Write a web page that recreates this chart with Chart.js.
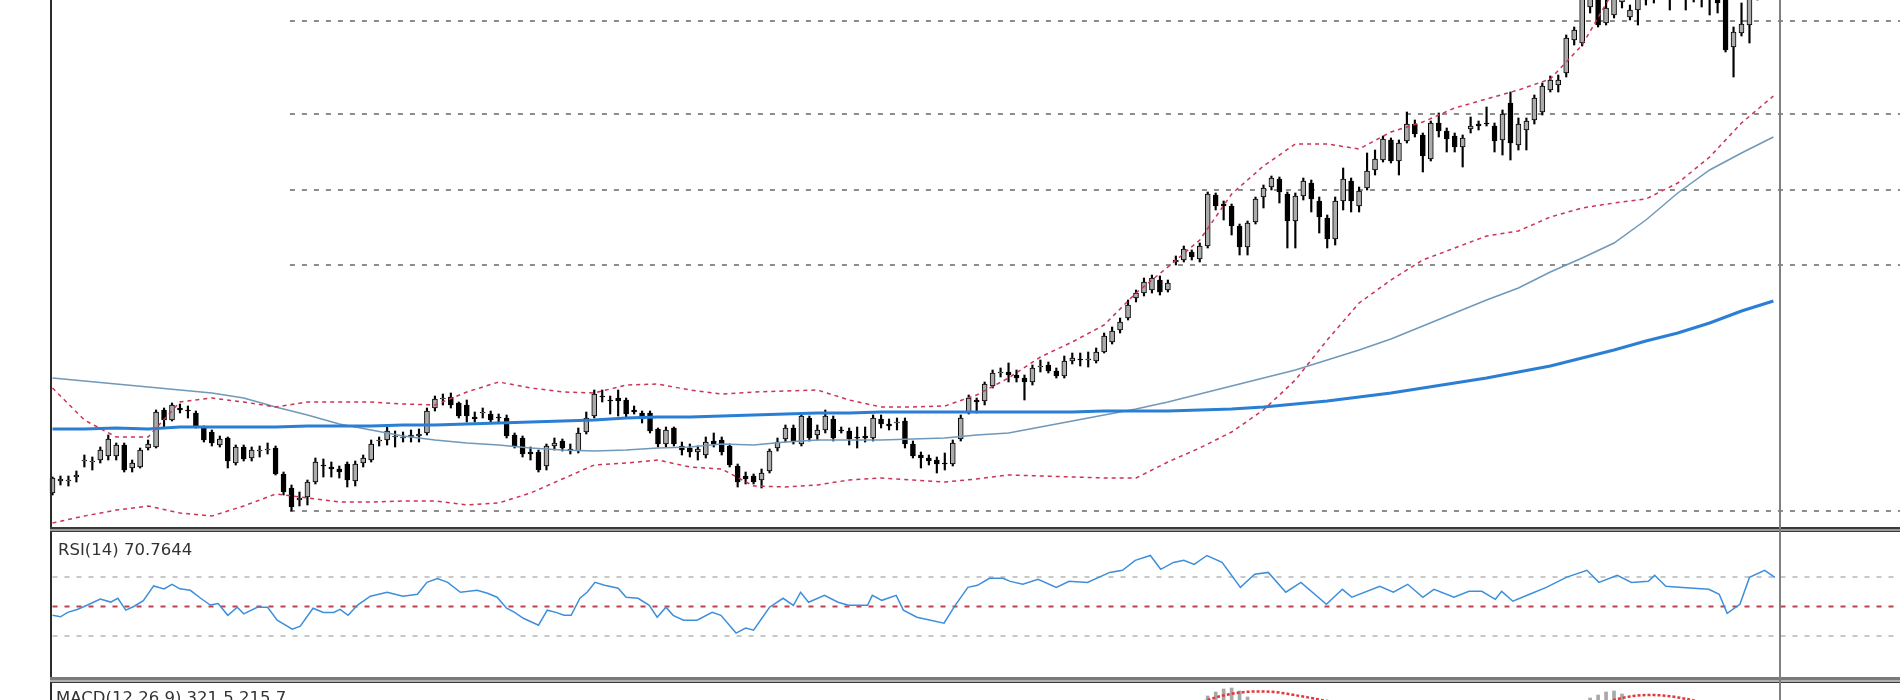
<!DOCTYPE html>
<html>
<head>
<meta charset="utf-8">
<script src="https://cdn.jsdelivr.net/npm/chart.js@4.4.1/dist/chart.umd.min.js"></script>
<style>
  html, body { margin: 0; padding: 0; background: #fff; }
  body { width: 1900px; height: 700px; overflow: hidden; position: relative; font-family: "DejaVu Sans", sans-serif; }
  .pane  { position: absolute; left: 0; width: 1900px; }
  .frame { position: absolute; z-index: 5; }
  .label { position: absolute; z-index: 6; color: #333; font-size: 16.5px; white-space: nowrap; }
</style>
</head>
<body>

<div class="pane" style="top:0;height:527px"><canvas id="main" width="1900" height="527"></canvas></div>
<div class="pane" style="top:533px;height:147px"><canvas id="rsi" width="1900" height="147"></canvas></div>
<div class="pane" style="top:683px;height:200px"><canvas id="macd" width="1900" height="200"></canvas></div>

<!-- window frame -->
<div class="frame" style="left:50px;top:0;width:2px;height:700px;background:#2b2b2b"></div>
<div class="frame" style="left:50px;top:527px;width:1850px;height:2px;background:#3a3a3a"></div>
<div class="frame" style="left:50px;top:529px;width:1850px;height:2px;background:#9a9a9a"></div>
<div class="frame" style="left:50px;top:531px;width:1850px;height:1px;background:#3a3a3a"></div>
<div class="frame" style="left:50px;top:677px;width:1850px;height:3px;background:#7a7a7a"></div>
<div class="frame" style="left:50px;top:680px;width:1850px;height:2px;background:#b0b0b0"></div>
<div class="frame" style="left:50px;top:682px;width:1850px;height:1px;background:#3a3a3a"></div>
<div class="frame" style="left:1779px;top:0;width:2px;height:700px;background:#808080"></div>

<div class="label" style="left:58px;top:540px">RSI(14) 70.7644</div>
<div class="label" style="left:56px;top:688px">MACD(12,26,9) 321.5 215.7</div>

<script>
// ---- price bars (daily), oldest first ----
const opens = [
  370,490,490,530,690,680,700,740,740,850, 620,630,820,830,1200,1100,1220,1200,1170,1020,
  980,850,920,670,830,720,790,800,820,560, 420,300,330,480,650,630,610,660,490,670,
  700,890,900,930,920,930,940,970,1220,1310, 1330,1270,1250,1130,1170,1160,1130,1120,950,920,
  780,780,640,840,890,810,790,980,1140,1340, 1300,1320,1300,1200,1170,1170,1010,860,1020,840,
  820,780,750,890,900,840,640,540,540,500, 590,820,910,1020,860,1120,950,1000,1110,1000,
  990,930,940,920,1110,1060,1070,1090,860,750, 720,700,670,660,910,1170,1300,1290,1440,1570,
  1580,1550,1520,1480,1630,1650,1590,1540,1690,1710, 1700,1690,1780,1880,2000,2120,2320,2370,2400,2500,
  2400,2680,2700,2780,2710,2840,3350,3260,3240,3040, 2830,3080,3330,3430,3510,3360,3090,3340,3470,3290,
  3120,2910,3290,3490,3240,3420,3600,3700,3900,3690, 3890,4060,3950,3710,4070,3990,3940,3830,4010,4060,
  4070,4040,3900,4270,3850,4000,4100,4180,4400,4450, 4570,4900,4870,5230,5450,5070,5150,5280,5130,5200,
  5300,5320,5400,5380,5420,5400,5440,5400,5360,5330, 5320,4830,4970,5050,5350,5450,5650
];
const highs = [
  530,540,540,590,750,730,830,950,870,870, 700,820,900,1200,1220,1270,1260,1240,1190,1040,
  1000,940,930,850,850,830,840,870,840,580, 450,380,500,720,710,680,640,680,690,750,
  900,930,1030,990,980,1000,1010,1220,1340,1360, 1370,1280,1300,1180,1220,1190,1160,1150,970,940,
  830,800,860,920,910,860,1020,1180,1400,1400, 1340,1400,1320,1240,1190,1190,1020,1030,1030,880,
  860,840,930,970,930,860,660,580,560,610, 810,920,1050,1050,1160,1140,1050,1200,1140,1030,
  1020,1030,1030,1150,1150,1110,1120,1120,890,780, 750,730,770,900,1150,1350,1320,1480,1600,1620,
  1670,1600,1550,1650,1700,1680,1620,1740,1770,1770, 1780,1820,1970,2030,2120,2300,2400,2520,2550,2540,
  2500,2740,2840,2800,2870,3380,3370,3290,3260,3060, 3090,3330,3450,3540,3530,3380,3370,3520,3500,3330,
  3150,3330,3620,3520,3430,3770,3800,3940,3920,3900, 4180,4100,3970,4090,4170,4020,3970,3950,4130,4090,
  4230,4070,4200,4380,4120,4120,4350,4470,4540,4550, 4950,5030,5450,5550,5500,5300,5400,5380,5250,5450,
  5400,5400,5500,5500,5500,5520,5520,5480,5450,5400, 5380,5030,5270,5420,5500,5700,5680
];
const lows = [
  350,450,440,480,630,600,670,700,700,580, 580,620,800,820,1030,1090,1170,1120,1020,880,
  840,830,620,650,690,690,730,760,550,350, 190,240,250,460,530,530,520,430,440,630,
  680,840,850,830,880,880,880,950,1190,1250, 1220,1120,1080,1080,1120,1080,1080,920,820,730,
  700,580,600,800,790,760,770,960,1120,1280, 1160,1140,1130,1160,1070,970,830,830,840,750,
  730,700,720,830,750,630,430,460,460,420, 570,790,880,860,840,890,900,970,890,970,
  850,820,880,890,1020,1000,1000,820,720,620, 650,570,600,640,890,1160,1170,1250,1420,1530,
  1480,1480,1300,1450,1580,1570,1520,1520,1660,1640, 1630,1670,1770,1860,1970,2100,2280,2340,2370,2350,
  2380,2650,2680,2700,2680,2820,3200,3100,2950,2750, 2750,3060,3220,3400,3270,2820,2820,3300,3180,2970,
  2820,2850,3200,3180,3180,3400,3550,3680,3670,3550, 3870,3930,3580,3690,3930,3780,3780,3630,3970,4000,
  4040,3780,3750,3700,3800,3800,4060,4150,4380,4380, 4530,4850,4840,5170,5030,5050,5120,5220,5100,5050,
  5250,5270,5320,5200,5330,5200,5280,5230,5150,5170, 4780,4530,4940,4870,5300,5420,5480
];
const closes = [
  520,510,500,550,700,690,800,910,850,600, 670,800,860,1180,1100,1250,1200,1190,1030,900,
  870,910,690,830,710,800,800,810,560,380, 230,320,480,680,640,610,580,500,660,720,
  860,900,990,940,930,950,960,1190,1310,1320, 1250,1140,1140,1110,1180,1100,1120,940,840,760,
  760,600,840,870,820,790,970,1120,1360,1330, 1290,1290,1160,1180,1110,990,860,1000,860,800,
  780,810,880,860,780,650,480,510,480,570, 790,880,1020,880,1140,920,1000,1140,920,990,
  910,920,920,1120,1060,1040,1080,860,740,720, 690,660,660,870,1120,1320,1280,1460,1570,1580,
  1550,1520,1480,1620,1640,1590,1540,1690,1720,1700, 1710,1780,1940,1990,2080,2250,2370,2480,2520,2380,
  2470,2700,2810,2730,2840,3360,3240,3240,3040,2830, 3070,3310,3420,3520,3380,3090,3340,3490,3310,3130,
  2910,3290,3510,3290,3390,3590,3710,3910,3690,3870, 4060,3960,3740,4070,3990,3910,3830,3920,4040,4040,
  4060,3890,4160,3870,4060,4090,4320,4440,4500,4500, 4920,5000,5400,5500,5050,5220,5350,5330,5200,5400,
  5320,5340,5380,5420,5400,5440,5400,5360,5320,5270, 4800,4980,5060,5350,5450,5650,5520
];

// ---- overlays, read every LINE_STEP bars ----
const LINE_STEP = 4;
const maSlow = [
  1010,1010,1020,1010,1030,1030,1030,1030,1040,1040, 1040,1050,1050,1060,1070,1080,1090,1100,1120,1130,
  1130,1140,1150,1160,1170,1170,1180,1180,1180,1180, 1180,1180,1180,1190,1190,1190,1200,1210,1230,1260,
  1290,1330,1370,1420,1470,1520,1580,1640,1720,1800, 1890,1970,2070,2190,2290
];
const maFast = [
  1520,1490,1460,1430,1400,1370,1320,1230,1150,1060, 1000,940,900,870,850,820,800,790,800,820,
  830,860,850,880,900,900,900,910,920,950, 970,1030,1090,1150,1210,1280,1360,1440,1520,1600,
  1700,1800,1910,2040,2170,2300,2420,2580,2720,2870, 3100,3370,3600,3770,3930
];
const bbUpper = [
  1420,1100,930,930,1280,1320,1280,1230,1280,1280, 1280,1260,1250,1380,1480,1420,1380,1370,1450,1460,
  1400,1360,1380,1390,1400,1300,1230,1230,1240,1350, 1520,1730,1880,2050,2370,2630,2900,3360,3640,3860,
  3860,3810,3980,4080,4220,4310,4400,4510,4850,5400, 5800,6000,6100,6100,6100
];
const bbLower = [
  70,140,200,240,170,140,240,360,320,280, 280,290,290,250,270,370,510,650,670,700,
  630,610,440,430,450,500,520,500,480,510, 550,540,530,520,520,680,820,980,1200,1500,
  1900,2270,2500,2700,2820,2940,2990,3130,3220,3270, 3310,3470,3730,4070,4340
];
// horizontal levels drawn on the price pane
const priceLevels = [5090, 4160, 3400, 2650, 190];
const LEVELS_FROM = 29.8;

// ---- RSI(14), read at bar positions ----
const rsiAt = [
  0,1,1.9,3.1,4.4,6,7.3,8.2,9.2,10.2,11.4,12.7,14,15,16,17.3,18.6,19.8,20.8,22,23.2,24,25.7,27,28.2,
  30.1,31.1,32.7,34,35.3,36.1,37.1,38.3,39.9,42,44,45.8,47,48.3,49.6,51.2,53.3,54.6,55.8,57,58,59.1,
  60.2,61,62.1,63.2,64.2,65.1,66.2,67.1,68.1,69.3,71,72,73.5,74.9,75.9,77,77.9,79.2,80.9,82.8,83.9,
  85.8,87,88,90,91.7,93,93.9,94.9,96.9,98.6,99.9,102.3,102.9,104.1,105.9,106.8,108.5,111.9,113.3,
  114.9,116.1,117.6,119.3,120.2,121.8,123.7,126,127.6,129.9,132.7,134.3,135.9,137.8,139.1,140.7,142,
  143.3,144.9,146.8,149.1,150.9,152.6,154.8,156.7,159.9,161.9,163.1,166.6,168.3,170.1,172,173.4,
  175.9,177.8,179.4,181.1,181.9,183.3,185.4,187.5,190,192.6,194.1,196.4,198.2,200.3,201.1,202.5,
  204.6,207.9,209.2,210.2,211.8,213,214.9,216.2
];
const rsiVal = [
  44,43,46,48,51,55,53,55.6,47.5,50,54,64,62,65,62,61,55.6,51,52,44,49.5,45,49.5,49.5,40.7,
  34.6,36.6,48.8,46,46,48,44,51,57,59.7,57,58.3,66.4,69,66.4,59.7,61,59,56.3,48.8,46,42,
  39.3,37.3,47.5,46,44,44,55.6,59.7,66.4,64.4,62.4,56.3,55.6,50.8,42.7,49.5,44,40.7,40.7,46,44,
  31.9,35.3,33.9,49.5,55.6,50.8,59.7,52.9,57.6,52.9,50.8,50.8,57.6,54.2,57.6,47.5,42.7,38.6,50.8,
  63,64.4,69.2,69.2,67.1,65.1,68.5,63,67.1,66.4,73.2,74.6,81.4,84.7,75.3,80,81.4,
  78.6,84.7,80,63,71.9,73.2,59.7,66.4,51.5,61.7,56.3,63.7,59.7,65.1,56.3,61.7,
  56.3,60.3,60.3,54.9,60.3,53.6,58.3,63,69.8,74.6,66.4,71.2,66.4,67.1,71.2,63.7,
  63,61.7,58.3,45.4,51.5,69.8,74.6,69.8
];
const rsiLevels = [70, 50, 30];

// ---- MACD(12,26,9): main histogram and signal, one value per bar ----
const macdMain = [
  -10,-5,0,5,15,20,25,35,38,30,28,30,32,45,50,55,56,52,45,35,
  25,15,5,-5,-10,-15,-18,-20,-28,-45,-62,-70,-68,-60,-55,-50,-45,-45,-40,-32,
  -22,-15,-5,0,4,8,10,22,35,45,52,50,45,40,36,32,28,20,10,0,
  -8,-18,-22,-20,-20,-18,-8,5,22,32,40,45,44,42,38,30,20,14,6,0,
  -5,-8,-5,-3,-6,-14,-28,-35,-40,-40,-32,-22,-12,-10,0,2,5,10,8,8,
  5,4,4,10,12,14,15,8,0,-8,-15,-20,-25,-18,-5,15,30,55,80,100,
  125,145,160,170,185,200,210,225,240,255,270,290,310,330,355,380,405,420,430,435,
  445,455,470,490,505,535,555,570,575,560,530,512,505,500,495,485,480,475,470,460,
  445,445,455,465,465,470,478,482,480,478,480,470,460,460,458,450,440,432,428,420,
  415,400,400,385,380,385,400,420,440,460,480,495,508,525,540,555,560,545,505,495,
  490,480,470,460,455,450,440,425,410,400,370,340,330,335,340,335,321.5
];
const macdSignal = [
  0,0,0,2,5,8,12,16,20,24,26,28,30,33,37,40,43,46,47,46,
  43,38,32,25,18,10,3,-4,-10,-18,-27,-36,-44,-50,-55,-57,-56,-54,-51,-47,
  -42,-36,-30,-24,-17,-10,-4,3,10,17,24,30,35,38,40,40,38,35,30,24,
  18,11,4,-2,-7,-11,-13,-12,-8,-3,3,10,18,26,32,35,36,35,32,28,
  23,17,12,7,2,-3,-9,-15,-21,-26,-29,-30,-28,-25,-21,-16,-11,-6,-2,2,
  4,5,6,7,8,9,10,10,9,7,4,0,-5,-9,-11,-10,-6,1,11,24,
  38,55,72,89,105,121,137,152,167,182,197,215,235,255,275,300,325,350,375,400,
  420,440,460,480,500,515,528,538,546,552,556,558,558,556,552,546,539,532,525,517,
  510,503,497,492,488,485,482,480,478,476,474,472,470,468,466,464,461,458,455,452,
  449,446,443,440,437,435,434,434,436,440,446,454,464,476,490,503,515,525,533,538,
  540,540,538,534,528,521,513,504,494,483,470,455,438,418,390,330,215.7
];

// ---- layout of the bar axis (pixels of the 1900px window) ----
const FIRST_BAR_PX = 52.5;
const BAR_PX = 7.967;
const X_MIN = -FIRST_BAR_PX / BAR_PX;
const X_MAX = (1900 - FIRST_BAR_PX) / BAR_PX;

const BULL_FILL = '#ababab';
const BEAR_FILL = '#000000';

function hLine(y, from, color, dash) {
  return {
    type: 'line', data: [{ x: from, y }, { x: X_MAX, y }],
    borderColor: color, borderWidth: 2, borderDash: dash,
    pointRadius: 0, order: 20,
  };
}

function overlay(values, color, width, dash, order) {
  return {
    type: 'line',
    data: values.map((v, i) => ({ x: i * LINE_STEP, y: v })),
    borderColor: color, borderWidth: width, borderDash: dash || [],
    pointRadius: 0, tension: 0, order,
  };
}

function pane(id, yMin, yMax, datasets) {
  return new Chart(document.getElementById(id), {
    type: 'bar',
    data: { datasets },
    options: {
      responsive: false,
      animation: false,
      events: [],
      layout: { padding: 0 },
      plugins: { legend: { display: false }, tooltip: { enabled: false } },
      scales: {
        x: { type: 'linear', display: false, min: X_MIN, max: X_MAX, offset: false },
        y: { type: 'linear', display: false, min: yMin, max: yMax },
      },
    },
  });
}

// price pane
const priceSets = priceLevels.map(p => hLine(p, LEVELS_FROM, '#8c8c8c', [5, 7]));
priceSets.push({
  type: 'bar', grouped: false, order: 12,
  data: highs.map((h, i) => ({ x: i, y: [lows[i], h] })),
  backgroundColor: '#000', barThickness: 1.5,
});
priceSets.push({
  type: 'bar', grouped: false, order: 11,
  data: opens.map((o, i) => ({ x: i, y: [o, closes[i]] })),
  backgroundColor: opens.map((o, i) => closes[i] >= o ? BULL_FILL : BEAR_FILL),
  borderColor: '#000', borderWidth: 1, borderSkipped: false, barThickness: 5,
});
priceSets.push(overlay(maFast, '#6f98ba', 1.5, null, 4));
priceSets.push(overlay(bbUpper, '#cc3355', 1.5, [4, 4], 3));
priceSets.push(overlay(bbLower, '#cc3355', 1.5, [4, 4], 3));
priceSets.push(overlay(maSlow, '#2a7fd4', 3, null, 2));
pane('main', 30, 5300, priceSets);

// RSI pane
const rsiSets = rsiLevels.map(l => hLine(l, 0, l === 50 ? '#c04050' : '#c8c8c8', [5, 7]));
rsiSets.push({
  type: 'line', order: 1,
  data: rsiAt.map((x, i) => ({ x, y: rsiVal[i] })),
  borderColor: '#3d8fdc', borderWidth: 1.5, pointRadius: 0, tension: 0,
});
pane('rsi', 0, 100, rsiSets);

// MACD pane
pane('macd', -400, 600, [
  {
    type: 'bar', grouped: false, order: 5,
    data: macdMain.map((v, i) => ({ x: i, y: v })),
    backgroundColor: '#a8a8a8', barThickness: 3,
  },
  {
    type: 'line', order: 1,
    data: macdSignal.map((v, i) => ({ x: i, y: v })),
    borderColor: '#e03a3a', borderWidth: 2.5, borderDash: [3, 2], pointRadius: 0, tension: 0,
  },
]);
</script>
</body>
</html>
